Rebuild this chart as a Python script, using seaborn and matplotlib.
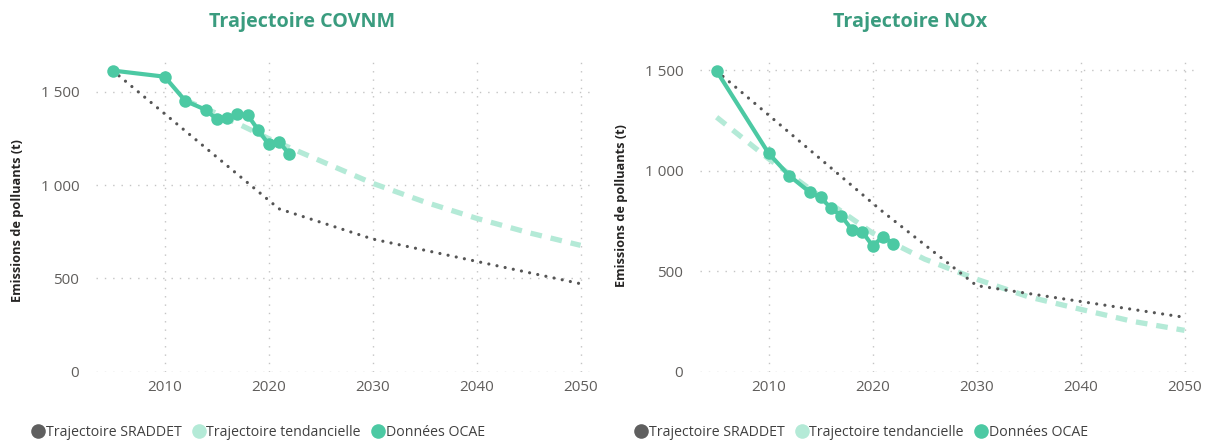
import numpy as np
import pandas as pd
import matplotlib
matplotlib.use("Agg")
import matplotlib.pyplot as plt
from matplotlib.lines import Line2D
import seaborn as sns

# Données
years_ocae = [2005, 2010, 2012, 2014, 2015, 2016, 2017, 2018, 2019, 2020, 2021, 2022]
covnm_ocae = [1615, 1582, 1452, 1403, 1353, 1362, 1380, 1375, 1296, 1219, 1233, 1165]
nox_ocae = [1497, 1087, 975, 892, 867, 814, 775, 707, 697, 626, 672, 637]

years_sraddet = [2005, 2021, 2030, 2050]
covnm_sraddet = [1615, 873, 711, 471]
nox_sraddet = [1497, 795, 428, 270]

years_trend_covnm = [2012, 2015, 2020, 2025, 2030, 2035, 2040, 2045, 2050]
covnm_trend = [1455, 1385, 1250, 1130, 1010, 910, 822, 745, 677]
years_trend_nox = [2005, 2010, 2015, 2020, 2025, 2030, 2035, 2040, 2045, 2050]
nox_trend = [1267, 1060, 870, 690, 560, 460, 372, 310, 250, 205]

x_ticks = [2010, 2020, 2030, 2040, 2050]
y_ticks = [0, 500, 1000, 1500]
y_tick_labels = ["0", "500", "1 000", "1 500"]

col_ocae = "#4cc9a3"
col_trend = "#b4ead7"
col_sraddet = "#555555"
col_title = "#3a9c7f"

sns.set_style("white")
plt.rcParams["font.family"] = ["Open Sans", "DejaVu Sans"]

fig = plt.figure(figsize=(12.15, 4.46), dpi=100)
ax1 = fig.add_axes([96 / 1215, 1 - 371.5 / 446, 497 / 1215, (371.5 - 56) / 446])
ax2 = fig.add_axes([700 / 1215, 1 - 371.5 / 446, 497 / 1215, (371.5 - 56) / 446])


def draw_panel(ax, yr_tr, v_tr, v_sr, v_oc, ymax):
    df_tr = pd.DataFrame({"annee": yr_tr, "valeur": v_tr})
    df_sr = pd.DataFrame({"annee": years_sraddet, "valeur": v_sr})
    df_oc = pd.DataFrame({"annee": years_ocae, "valeur": v_oc})
    sns.lineplot(data=df_tr, x="annee", y="valeur", ax=ax, color=col_trend,
                 linewidth=3.8, linestyle=(0, (2.2, 1.7)))
    sns.lineplot(data=df_sr, x="annee", y="valeur", ax=ax, color=col_sraddet,
                 linewidth=2.3, linestyle=(0, (0.01, 2.6)), dash_capstyle="round")
    sns.lineplot(data=df_oc, x="annee", y="valeur", ax=ax, color=col_ocae,
                 linewidth=3.0, marker="o", markersize=9, markeredgewidth=0)
    ax.set_xlim(2003.4, 2051.2)
    ax.set_ylim(0, ymax)
    ax.set_xticks(x_ticks)
    ax.set_yticks(y_ticks)
    ax.set_yticklabels(y_tick_labels)
    ax.grid(True, linestyle=(0, (1, 5)), color="#c4c4c4", linewidth=1)
    ax.set_axisbelow(True)
    for s in ax.spines.values():
        s.set_visible(False)
    ax.tick_params(axis="both", length=0, labelcolor="#605e5c", labelsize=11)
    ax.tick_params(axis="y", pad=12)
    ax.tick_params(axis="x", pad=6)
    ax.set_xlabel("")
    ax.set_ylabel("")


draw_panel(ax1, years_trend_covnm, covnm_trend, covnm_sraddet, covnm_ocae, 1693)
draw_panel(ax2, years_trend_nox, nox_trend, nox_sraddet, nox_ocae, 1572)

fig.text(302 / 1215, 1 - 22 / 446, "Trajectoire COVNM", ha="center", va="center",
         fontsize=14.2, fontweight="bold", color=col_title)
fig.text(910 / 1215, 1 - 22 / 446, "Trajectoire NOx", ha="center", va="center",
         fontsize=14.2, fontweight="bold", color=col_title)

fig.text(18 / 1215, 1 - 221 / 446, "Emissions de polluants (t)", rotation=90,
         ha="center", va="center", fontsize=9.2, fontweight="bold", color="#252423")
fig.text(622 / 1215, 1 - 206 / 446, "Emissions de polluants (t)", rotation=90,
         ha="center", va="center", fontsize=9.2, fontweight="bold", color="#252423")

handles = [
    Line2D([], [], linestyle="none", marker="o", markersize=10.5, markeredgewidth=0,
           color="#5f5f5f", label="Trajectoire SRADDET"),
    Line2D([], [], linestyle="none", marker="o", markersize=10.5, markeredgewidth=0,
           color=col_trend, label="Trajectoire tendancielle"),
    Line2D([], [], linestyle="none", marker="o", markersize=10.5, markeredgewidth=0,
           color=col_ocae, label="Données OCAE"),
]
for cx in (258, 861):
    leg = fig.legend(handles=handles, loc="center", ncol=3,
                     bbox_to_anchor=(cx / 1215, 1 - 432 / 446), frameon=False,
                     fontsize=10.2, handletextpad=0.05, columnspacing=0.7,
                     handlelength=1.0, borderpad=0)
    for t in leg.get_texts():
        t.set_color("#404040")

fig.savefig("out.png", dpi=100)
